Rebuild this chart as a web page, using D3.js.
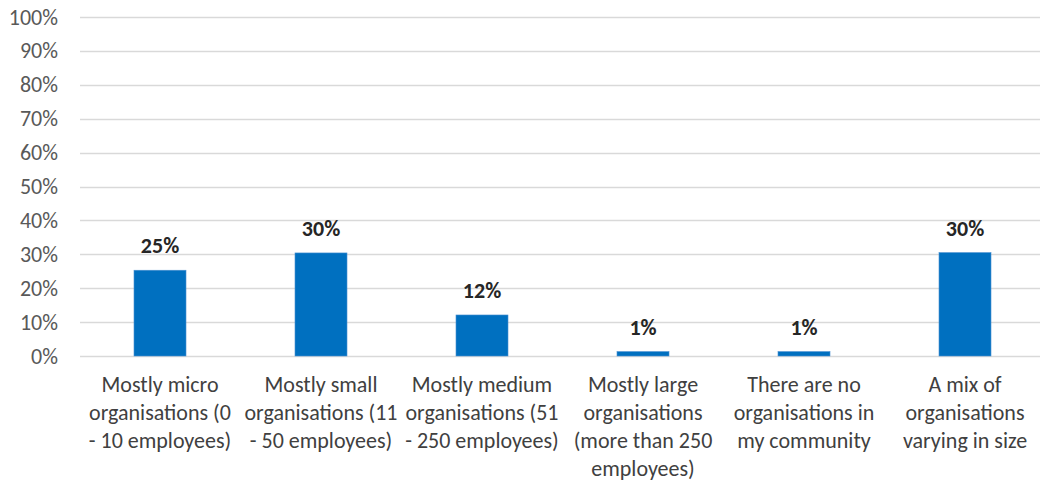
<!DOCTYPE html>
<html>
<head>
<meta charset="utf-8">
<script src="https://cdn.jsdelivr.net/npm/d3@7"></script>
<style>
  html, body { margin: 0; padding: 0; background: #fff; }
  svg { display: block; }
  text { font-family: Carlito, Calibri, Lato, sans-serif; }
</style>
</head>
<body>
<svg id="chart" width="1040" height="483"></svg>
<script>
const categories = [
  "Mostly micro\norganisations (0\n- 10 employees)",
  "Mostly small\norganisations (11\n- 50 employees)",
  "Mostly medium\norganisations (51\n- 250 employees)",
  "Mostly large\norganisations\n(more than 250\nemployees)",
  "There are no\norganisations in\nmy community",
  "A mix of\norganisations\nvarying in size"
];
const values = [25.3, 30.4, 12.1, 1.3, 1.3, 30.5];
const dataLabels = ["25%", "30%", "12%", "1%", "1%", "30%"];
const yTicks = [0, 10, 20, 30, 40, 50, 60, 70, 80, 90, 100];

const svg = d3.select("#chart");
const W = 1040, H = 483;
const plotLeft = 79.5, plotRight = 1045.5, plotTop = 17, plotBottom = 356;

const x = d3.scaleBand()
  .domain(d3.range(categories.length))
  .range([plotLeft, plotRight])
  .paddingInner(0.677)
  .paddingOuter(0.3385);

const y = d3.scaleLinear().domain([0, 100]).range([plotBottom, plotTop]);

// gridlines
svg.append("g")
  .selectAll("line")
  .data(yTicks)
  .join("line")
  .attr("x1", 80).attr("x2", W)
  .attr("y1", d => Math.round(y(d)) + 0.5)
  .attr("y2", d => Math.round(y(d)) + 0.5)
  .attr("stroke", "#d9d9d9")
  .attr("stroke-width", 1.5);

// y axis labels
const yAxis = d3.axisLeft(y).tickValues(yTicks).tickFormat(d => d + "%").tickSize(0).tickPadding(0);
const ya = svg.append("g").attr("transform", "translate(58,0)").call(yAxis);
ya.select(".domain").remove();
ya.selectAll("text")
  .attr("fill", "#595959")
  .style("font-size", "22px")
  .style("font-family", "Carlito, Calibri, Lato, sans-serif");

// bars
svg.append("g")
  .selectAll("rect")
  .data(values)
  .join("rect")
  .attr("x", (d, i) => x(i))
  .attr("width", x.bandwidth())
  .attr("y", d => y(d))
  .attr("height", d => plotBottom - y(d))
  .attr("fill", "#0070c0")
  .attr("stroke", "#4a90d0")
  .attr("stroke-width", 0.6);

// data labels
svg.append("g")
  .selectAll("text")
  .data(values)
  .join("text")
  .attr("x", (d, i) => x(i) + x.bandwidth() / 2)
  .attr("y", d => y(d) - 17)
  .attr("text-anchor", "middle")
  .attr("fill", "#262626")
  .style("font-size", "22px")
  .style("font-weight", "bold")
  .text((d, i) => dataLabels[i]);

// category labels
const cat = svg.append("g")
  .selectAll("text")
  .data(categories)
  .join("text")
  .attr("x", (d, i) => x(i) + x.bandwidth() / 2)
  .attr("y", 392)
  .attr("text-anchor", "middle")
  .attr("fill", "#404040")
  .style("font-size", "22px");
cat.each(function(d, i) {
  const t = d3.select(this);
  const cx = x(i) + x.bandwidth() / 2;
  d.split("\n").forEach((line, j) => {
    t.append("tspan").attr("x", cx).attr("dy", j === 0 ? 0 : 28).text(line);
  });
});
</script>
</body>
</html>
